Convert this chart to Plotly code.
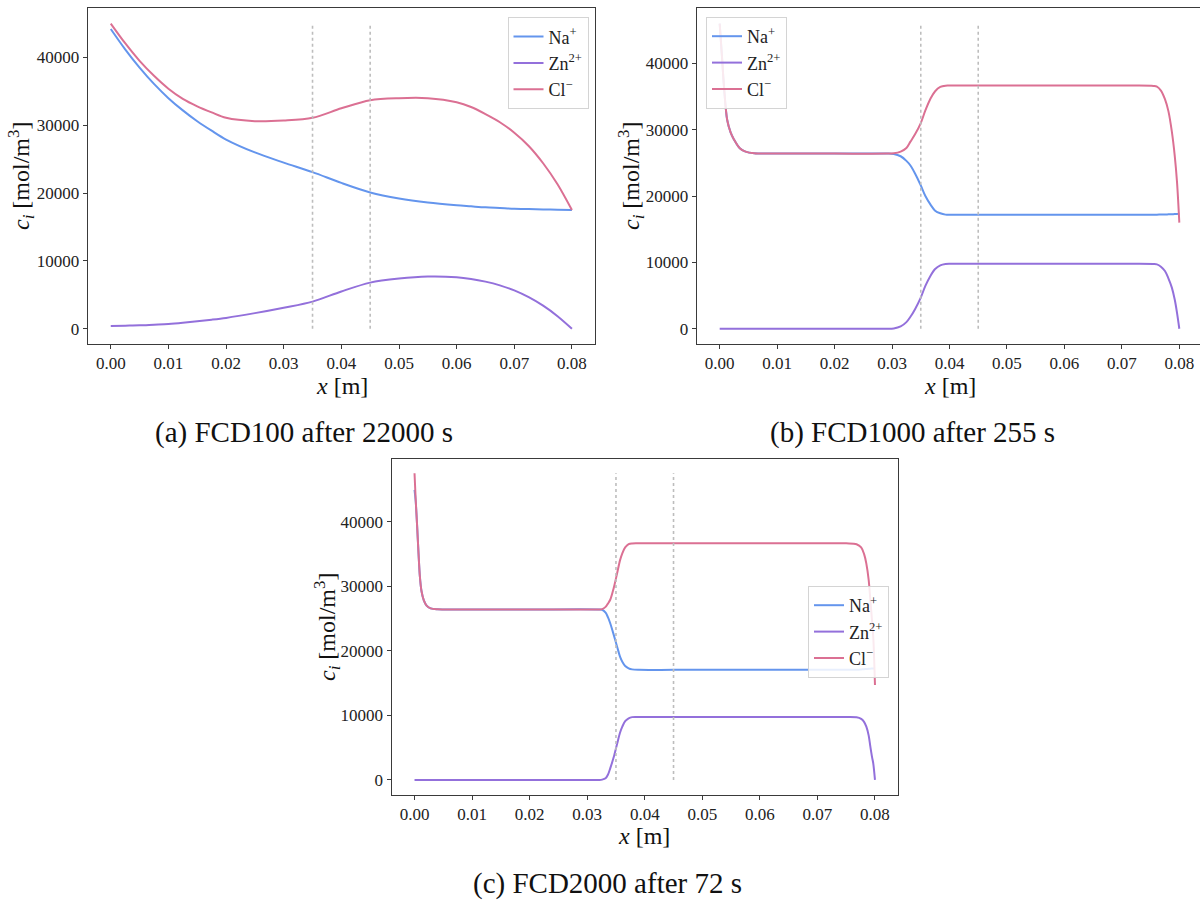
import plotly.graph_objects as go

# ---------------- data ----------------
# Panel (a): FCD100 after 22000 s
xa = [0, 0.0025, 0.005, 0.0075, 0.01, 0.0125, 0.015, 0.0175, 0.02, 0.025, 0.03, 0.035,
      0.04, 0.045, 0.05, 0.055, 0.06, 0.0625, 0.065, 0.0675, 0.07, 0.0725, 0.075,
      0.0775, 0.08]
na_a = [44200, 41200, 38500, 36100, 34000, 32200, 30600, 29200, 27900, 26000, 24500, 23100,
        21500, 20100, 19200, 18600, 18200, 18050, 17900, 17800, 17700, 17650, 17600,
        17550, 17500]
zn_a = [400, 450, 500, 600, 700, 880, 1100, 1330, 1600, 2300, 3100, 4000,
        5500, 6800, 7400, 7700, 7600, 7350, 6950, 6400, 5650, 4650, 3400,
        1850, 0]
cl_a = [45000, 42100, 39500, 37300, 35400, 33900, 32800, 31900, 31100, 30600, 30700, 31100,
        32500, 33700, 34000, 34000, 33400, 32700, 31650, 30450, 28900, 26950, 24400,
        21300, 17500]

# Panel (b): FCD1000 after 255 s
xb = [0, 0.0004, 0.00075, 0.0013, 0.0019, 0.0025, 0.0035, 0.0045, 0.006, 0.01, 0.02,
      0.029, 0.0303, 0.0315, 0.0325, 0.0332, 0.034, 0.035, 0.0358, 0.0367, 0.0375,
      0.0384, 0.0393, 0.0401, 0.045, 0.055, 0.065, 0.072, 0.0755, 0.0761, 0.0768,
      0.0775, 0.0781, 0.0787, 0.0792, 0.0796, 0.08]
na_b = [46000, 41000, 36500, 31500, 29600, 28500, 27200, 26700, 26450, 26400, 26400,
        26400, 26350, 26000, 25300, 24600, 23400, 21600, 20000, 18700, 17800,
        17400, 17200, 17170, 17170, 17170, 17170, 17170, 17190, 17200, 17210,
        17220, 17240, 17260, 17280, 17300, 17350]
zn_b = [0, 0, 0, 0, 0, 0, 0, 0, 0, 0, 0,
        0, 50, 350, 1000, 1800, 2950, 4700, 6450, 8000, 9000,
        9550, 9750, 9790, 9790, 9790, 9790, 9790, 9760, 9700, 9350,
        8700, 7600, 6200, 4400, 2400, 0]
cl_b = [46000, 41000, 36500, 31500, 29600, 28500, 27200, 26700, 26450, 26400, 26400,
        26400, 26450, 26700, 27250, 28200, 29300, 31000, 32900, 34700, 35800,
        36450, 36640, 36650, 36650, 36650, 36650, 36650, 36600, 36500, 35900,
        34600, 32800, 29700, 26100, 22100, 16000]

# Panel (c): FCD2000 after 72 s
xc = [0, 0.0002, 0.00046, 0.0007, 0.00093, 0.0012, 0.0016, 0.0021, 0.0028, 0.004,
      0.01, 0.02, 0.032, 0.0326, 0.0332, 0.0336, 0.034, 0.0346, 0.0352, 0.0357,
      0.0361, 0.0366, 0.0372, 0.0378, 0.039, 0.045, 0.055, 0.065, 0.075, 0.0768,
      0.0776, 0.0781, 0.0785, 0.0789, 0.0792, 0.0795, 0.0797, 0.08]
na_c = [44900, 43200, 39200, 35000, 31500, 29300, 27860, 27000, 26570, 26420,
        26400, 26400, 26400, 26350, 25900, 25200, 24260, 22500, 20640, 19100,
        18320, 17650, 17290, 17120, 17050, 17050, 17050, 17050, 17050, 17080,
        17120, 17150, 17180, 17210, 17230, 17250, 17270, 17290]
zn_c = [0, 0, 0, 0, 0, 0, 0, 0, 0, 0,
        0, 0, 0, 50, 260, 800, 1800, 3500, 5600, 7300,
        8250, 9100, 9550, 9730, 9750, 9750, 9750, 9750, 9750, 9700,
        9450, 9000, 8250, 6900, 5150, 3500, 2580, 0]
cl_c = [47500, 43500, 39200, 35000, 31500, 29300, 27860, 27000, 26570, 26420,
        26400, 26400, 26400, 26450, 26800, 27300, 27900, 29700, 32000, 34000,
        35100, 36000, 36500, 36620, 36640, 36640, 36640, 36640, 36640, 36500,
        36000, 35000, 33500, 31000, 27860, 24500, 22200, 14700]

# electrode / membrane boundaries (dotted lines)
x_bounds = [0.035, 0.045]

species = ["Na<sup>+</sup>", "Zn<sup>2+</sup>", "Cl<sup>−</sup>"]
colors = ["#6495ED", "#9370DB", "#DB7093"]
captions = ["(a) FCD100 after 22000 s", "(b) FCD1000 after 255 s", "(c) FCD2000 after 72 s"]
x_title = "<i>x</i> [m]"
y_title = "<i>c<sub>i</sub></i> [mol/m<sup>3</sup>]"
x_ticks = [0, 0.01, 0.02, 0.03, 0.04, 0.05, 0.06, 0.07, 0.08]
y_ticks = [0, 10000, 20000, 30000, 40000]

FONT = "Liberation Serif"
W, H = 1200, 901


def px(v):
    return v / W


def py(v):
    return 1 - v / H


panels = [
    (xa, [na_a, zn_a, cl_a], "x", "y", "legend"),
    (xb, [na_b, zn_b, cl_b], "x2", "y2", "legend2"),
    (xc, [na_c, zn_c, cl_c], "x3", "y3", "legend3"),
]

fig = go.Figure()
for xs, series, xr, yr, leg in panels:
    for name, col, ys in zip(species, colors, series):
        fig.add_trace(go.Scatter(
            x=xs, y=ys, mode="lines", name=name, xaxis=xr, yaxis=yr, legend=leg,
            line=dict(color=col, width=2, shape="spline", smoothing=0.9),
            hoverinfo="skip"))
    top = max(max(s) for s in series)
    for xv in x_bounds:
        fig.add_trace(go.Scatter(
            x=[xv, xv], y=[0, top], mode="lines", xaxis=xr, yaxis=yr,
            showlegend=False, hoverinfo="skip",
            line=dict(color="#bdbdbd", width=1.6, dash="dot")))


def xax(domain, rng, anchor):
    return dict(domain=domain, range=rng, tickvals=x_ticks, tickformat=".2f",
                anchor=anchor, automargin=False,
                showline=True, mirror=True, linecolor="#3a3a3a", linewidth=1,
                ticks="outside", ticklen=4, tickcolor="#3a3a3a", showgrid=False,
                zeroline=False, tickfont=dict(size=17, family=FONT, color="#222"))


def yax(domain, rng, anchor):
    return dict(domain=domain, range=rng, tickvals=y_ticks, tickformat="d",
                anchor=anchor, automargin=False,
                showline=True, mirror=True, linecolor="#3a3a3a", linewidth=1,
                ticks="outside", ticklen=4, tickcolor="#3a3a3a", showgrid=False,
                zeroline=False, tickfont=dict(size=17, family=FONT, color="#222"))


legstyle = dict(bgcolor="rgba(255,255,255,0.85)", bordercolor="#d4d4d4", borderwidth=1,
                font=dict(size=18, family=FONT, color="#222"), tracegroupgap=0)

fig.update_layout(
    width=W, height=H, paper_bgcolor="white", plot_bgcolor="white",
    margin=dict(l=0, r=0, t=0, b=0, autoexpand=False),
    font=dict(family=FONT),
    xaxis=xax([px(87.7), px(595)], [-0.004, 0.084], "y"),
    yaxis=yax([py(344), py(8.3)], [-2250, 47250], "x"),
    xaxis2=xax([px(696.7), 1.0], [-0.004, 0.0836], "y2"),
    yaxis2=yax([py(344), py(8.3)], [-2300, 48300], "x2"),
    xaxis3=xax([px(391.5), px(898)], [-0.004, 0.084], "y3"),
    yaxis3=yax([py(795), py(459.3)], [-2330, 49650], "x3"),
    legend=dict(legstyle, x=px(588.5), y=py(17.3), xanchor="right", yanchor="top"),
    legend2=dict(legstyle, x=px(706), y=py(17), xanchor="left", yanchor="top"),
    legend3=dict(legstyle, x=px(889), y=py(586), xanchor="right", yanchor="top"),
    showlegend=True,
)

# captions
cap_pos = [(304, 432), (912, 432), (607, 883)]
for text, (cx, cy) in zip(captions, cap_pos):
    fig.add_annotation(text=text, x=px(cx), y=py(cy), xref="paper", yref="paper",
                       xanchor="center", yanchor="middle", showarrow=False,
                       font=dict(size=29, family=FONT, color="#111"))

# axis titles
xt_pos = [(342, 386), (950, 386), (644, 836)]
yt_pos = [(21, 176), (631, 176), (327, 627)]
for (cx, cy) in xt_pos:
    fig.add_annotation(text=x_title, x=px(cx), y=py(cy), xref="paper", yref="paper",
                       xanchor="center", yanchor="middle", showarrow=False,
                       font=dict(size=24, family=FONT, color="#111"))
for (cx, cy) in yt_pos:
    fig.add_annotation(text=y_title, x=px(cx), y=py(cy), xref="paper", yref="paper",
                       xanchor="center", yanchor="middle", showarrow=False, textangle=-90,
                       font=dict(size=24, family=FONT, color="#111"))

fig.write_html("out.html", config={"displayModeBar": False},
               post_script="document.body.style.margin='0';"
                           "document.body.style.overflow='hidden';")
